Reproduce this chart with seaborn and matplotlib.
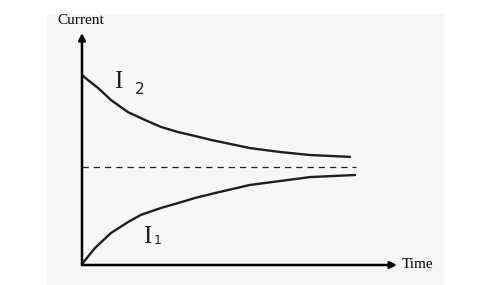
import matplotlib
matplotlib.use("Agg")
import matplotlib.pyplot as plt
import seaborn as sns
import pandas as pd
from matplotlib.patches import Rectangle

# Data (time, current)
i2_time = [0.0, 0.19, 0.51, 0.92, 1.46, 2.00, 2.51, 3.05, 3.59, 4.10, 5.33, 6.29, 7.24, 8.51]
i2_current = [8.19, 7.97, 7.63, 7.11, 6.59, 6.25, 5.95, 5.73, 5.56, 5.39, 5.04, 4.87, 4.74, 4.66]
i1_time = [0.0, 0.41, 0.92, 1.46, 1.87, 2.51, 3.05, 3.59, 4.22, 5.33, 6.29, 7.24, 8.67]
i1_current = [0.04, 0.73, 1.38, 1.85, 2.16, 2.46, 2.67, 2.89, 3.10, 3.45, 3.62, 3.79, 3.88]
asymptote = 4.22
asymptote_end = 8.7

sns.set_theme(style="white")
plt.rcParams['font.family'] = ['Liberation Serif', 'DejaVu Serif']

fig = plt.figure(figsize=(4.83, 2.85), dpi=100)
fig.patch.set_facecolor("white")
fig.patches.append(Rectangle((47/483, 0), (445-47)/483, (285-14)/285,
                             transform=fig.transFigure, facecolor="#f7f7f7",
                             edgecolor="none", zorder=-5))

ax = fig.add_axes([82/483, 20/285, 315/483, 232/285])
ax.set_facecolor("none")
ax.set_xlim(0, 10)
ax.set_ylim(0, 10)
for s in ax.spines.values():
    s.set_visible(False)
ax.set_xticks([])
ax.set_yticks([])

df2 = pd.DataFrame({"time": i2_time, "current": i2_current})
df1 = pd.DataFrame({"time": i1_time, "current": i1_current})
sns.lineplot(data=df2, x="time", y="current", ax=ax, color="#1e1e1e", lw=1.7, sort=False)
sns.lineplot(data=df1, x="time", y="current", ax=ax, color="#1e1e1e", lw=1.7, sort=False)
ax.plot([0, asymptote_end], [asymptote, asymptote], color="#222222", lw=0.9,
        dashes=(5, 4))
ax.set_xlabel("")
ax.set_ylabel("")

# axes arrows
ax.annotate("", xy=(0, 10), xytext=(0, 0), xycoords="data",
            arrowprops=dict(arrowstyle="-|>", color="black", lw=1.8,
                            mutation_scale=10, shrinkA=0, shrinkB=0),
            annotation_clip=False)
ax.annotate("", xy=(10, 0), xytext=(0, 0), xycoords="data",
            arrowprops=dict(arrowstyle="-|>", color="black", lw=1.8,
                            mutation_scale=10, shrinkA=0, shrinkB=0),
            annotation_clip=False)

fig.text(81/483, 1 - 21/285, "Current", ha="center", va="center", fontsize=11, color="black")
fig.text(402/483, 1 - 265/285, "Time", ha="left", va="center", fontsize=11, color="black")

# curve labels
fig.text(118/483, 1 - 82/285, "I", ha="center", va="center", fontsize=18, color="#1e1e1e")
fig.text(140/483, 1 - 89/285, "2", ha="center", va="center", fontsize=11, color="#1e1e1e",
         family=['DejaVu Sans'])
fig.text(147/483, 1 - 237/285, "I", ha="center", va="center", fontsize=18, color="#1e1e1e")
fig.text(158/483, 1 - 240/285, "1", ha="center", va="center", fontsize=9, color="#1e1e1e",
         family=['DejaVu Sans'])

fig.savefig("out.png", dpi=100)
